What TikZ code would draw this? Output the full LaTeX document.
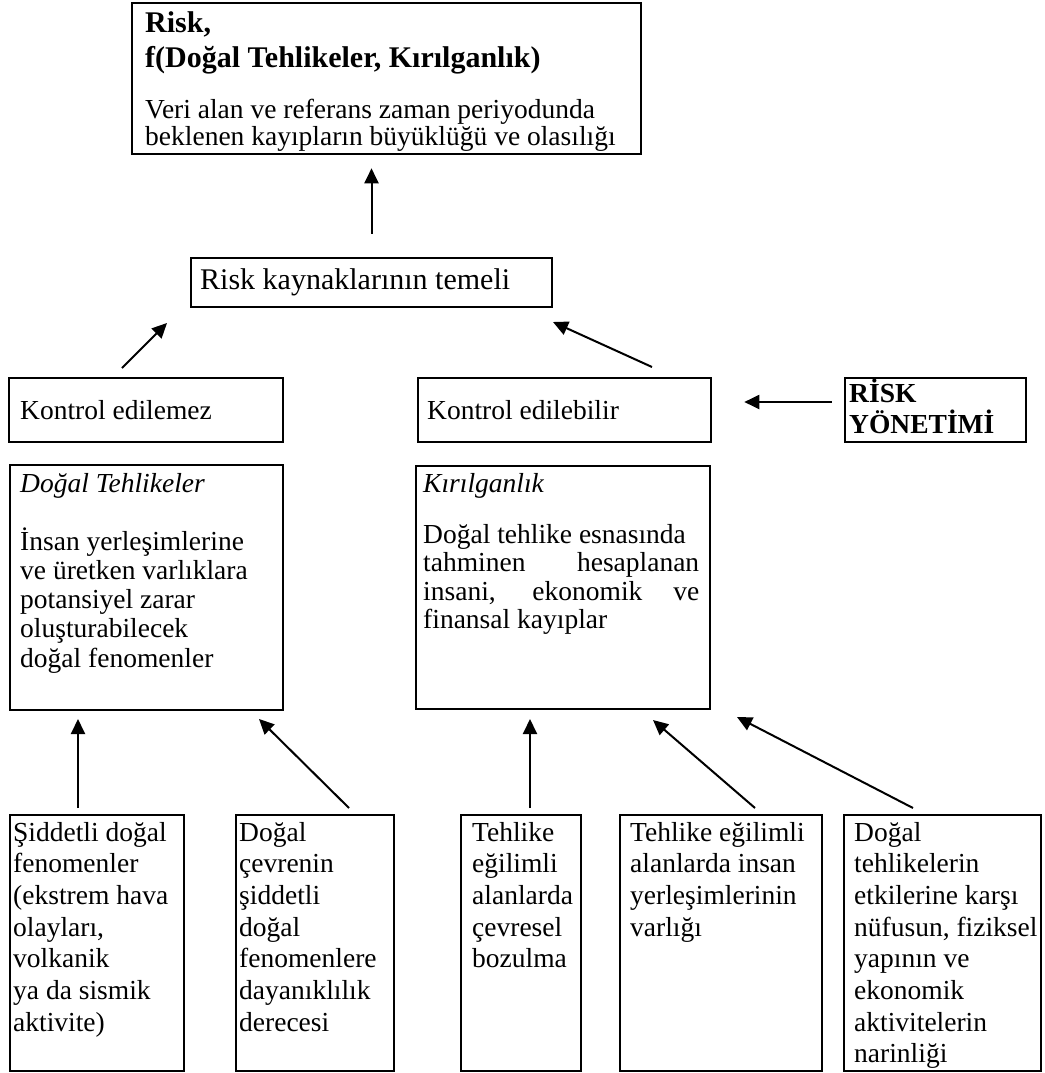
\documentclass[tikz,border=0pt]{standalone}
\usepackage{fontspec}
\setmainfont{Liberation Serif}
\usetikzlibrary{arrows.meta,calc}
\tikzset{
  bx/.style={draw, rectangle, inner sep=0pt, line width=2.6pt},
  bxthin/.style={draw, rectangle, inner sep=0pt, line width=1.8pt},
  txt/.style={inner sep=0pt, anchor=base west},
  arr/.style={line width=2pt, -{Triangle[length=15pt,width=14pt]}}
}
\newcommand{\bodyfont}[1]{\fontsize{27.5}{#1}\selectfont}
\begin{document}
\begin{tikzpicture}[x=1pt,y=-1pt]
\useasboundingbox (0,0) rectangle (1044,1073);
% boxes
\node[bx, minimum width=509pt, minimum height=151pt] (top) at (386.5,78.5) {};
\node[bx, minimum width=361pt, minimum height=49pt] (temel) at (371.5,282.5) {};
\node[bx, minimum width=274pt, minimum height=64pt] (ke) at (146,410) {};
\node[bx, minimum width=293pt, minimum height=64pt] (kb) at (564.5,410) {};
\node[bx, minimum width=181pt, minimum height=64pt] (ry) at (935.5,410) {};
\node[bx, minimum width=273pt, minimum height=245pt] (dt) at (146.5,587.5) {};
\node[bx, minimum width=294pt, minimum height=243pt] (kr) at (563,587.5) {};
\node[bxthin, minimum width=174pt, minimum height=256pt] (b1) at (97,943) {};
\node[bxthin, minimum width=158pt, minimum height=256pt] (b2) at (315,943) {};
\node[bxthin, minimum width=120pt, minimum height=256pt] (b3) at (521,943) {};
\node[bxthin, minimum width=202pt, minimum height=256pt] (b4) at (721,943) {};
\node[bxthin, minimum width=197pt, minimum height=256pt] (b5) at (942.5,943) {};
% texts
\node[txt] (ttop) at (145,33) {\parbox[t]{490pt}{\raggedright\parskip=0pt
  {\bfseries\fontsize{30}{35}\selectfont Risk,\\ f(Doğal Tehlikeler, Kırılganlık)\par}
  \vspace{24pt}
  {\bodyfont{27}Veri alan ve referans zaman periyodunda\\ beklenen kayıpların büyüklüğü ve olasılığı\par}}};
\node[txt] (ttemel) at (200,289) {\fontsize{30}{35}\selectfont Risk kaynaklarının temeli};
\node[txt] (tke) at (20,419) {\bodyfont{30}Kontrol edilemez};
\node[txt] (tkb) at (427,419) {\bodyfont{30}Kontrol edilebilir};
\node[txt] (try) at (849,402) {\parbox[t]{170pt}{\raggedright\bfseries\bodyfont{31}RİSK\\ YÖNETİMİ}};
\node[txt] (tdt) at (20,492) {\parbox[t]{260pt}{\raggedright\parskip=0pt
  {\itshape\bodyfont{30}Doğal Tehlikeler\par}
  \vspace{28.7pt}
  {\bodyfont{29.3}İnsan yerleşimlerine\\ ve üretken varlıklara\\ potansiyel zarar\\ oluşturabilecek\\ doğal fenomenler\par}}};
\node[txt] (tkr) at (423,492) {\parbox[t]{276pt}{\raggedright\parskip=0pt
  {\itshape\bodyfont{30}Kırılganlık\par}
  \vspace{22.5pt}
  {\bodyfont{28.5}Doğal tehlike esnasında\\
   \makebox[276pt][s]{tahminen hesaplanan}\\
   \makebox[276pt][s]{insani, ekonomik ve}\\
   finansal kayıplar\par}}};
\node[txt] (tb1) at (13,841) {\parbox[t]{170pt}{\raggedright\bodyfont{31.7}Şiddetli doğal\\ fenomenler\\ (ekstrem hava\\ olayları,\\ volkanik\\ ya da sismik\\ aktivite)}};
\node[txt] (tb2) at (239,841) {\parbox[t]{155pt}{\raggedright\bodyfont{31.7}Doğal\\ çevrenin\\ şiddetli\\ doğal\\ fenomenlere\\ dayanıklılık\\ derecesi}};
\node[txt] (tb3) at (472,841) {\parbox[t]{110pt}{\raggedright\bodyfont{31.7}Tehlike\\ eğilimli\\ alanlarda\\ çevresel\\ bozulma}};
\node[txt] (tb4) at (630,841) {\parbox[t]{190pt}{\raggedright\bodyfont{31.7}Tehlike eğilimli\\ alanlarda insan\\ yerleşimlerinin\\ varlığı}};
\node[txt] (tb5) at (854,841) {\parbox[t]{190pt}{\raggedright\bodyfont{31.7}Doğal\\ tehlikelerin\\ etkilerine karşı\\ nüfusun, fiziksel\\ yapının ve\\ ekonomik\\ aktivitelerin\\ narinliği}};
% arrow end points
\coordinate (s2) at (122,368); \coordinate (e2) at (167,323);
\coordinate (s3) at (652,367); \coordinate (e3) at (553,322);
\coordinate (s5) at (78,808);  \coordinate (e5) at (78,719);
\coordinate (s6) at (349,808); \coordinate (e6) at (259,719);
\coordinate (s7) at (530,808); \coordinate (e7) at (530,719);
\coordinate (s8) at (755,808); \coordinate (e8) at (653,720);
\coordinate (s9) at (913,808); \coordinate (e9) at (737,717);
% arrows
\draw[arr, shorten <=23pt, shorten >=13pt] (temel.north) -- (temel.north |- top.south);
\draw[arr] (s2) -- (e2);
\draw[arr] (s3) -- (e3);
\draw[arr, shorten <=12pt, shorten >=32pt] ([yshift=8pt]ry.west) -- ([yshift=8pt]kb.east);
\draw[arr] (s5) -- (e5);
\draw[arr] (s6) -- (e6);
\draw[arr] (s7) -- (e7);
\draw[arr] (s8) -- (e8);
\draw[arr] (s9) -- (e9);
\end{tikzpicture}
\end{document}
